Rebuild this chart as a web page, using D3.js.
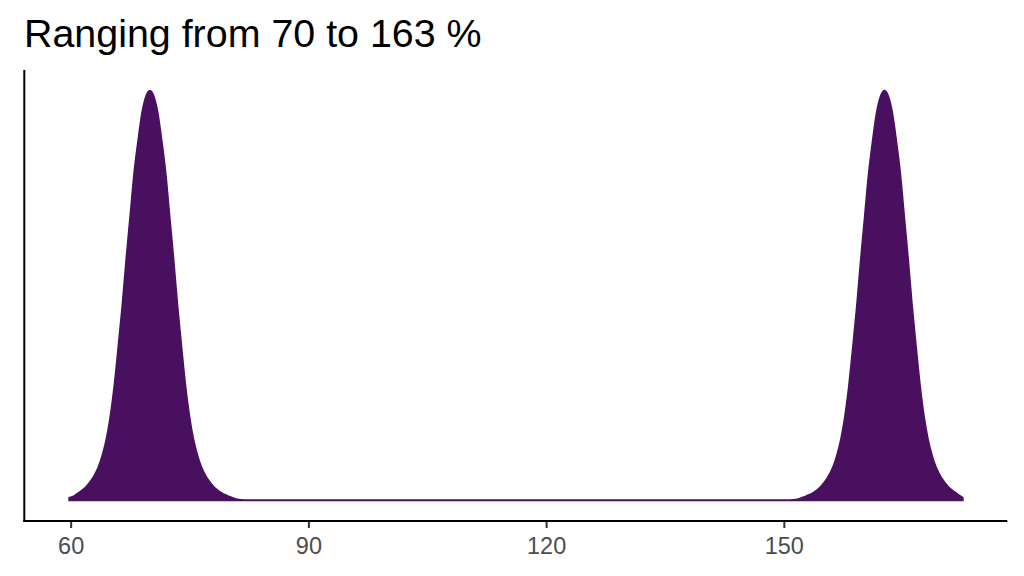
<!DOCTYPE html>
<html>
<head>
<meta charset="utf-8">
<script src="https://cdn.jsdelivr.net/npm/d3@7"></script>
<style>
  html, body { margin: 0; padding: 0; background: #fff; }
  svg { display: block; font-family: "Liberation Sans", Arial, sans-serif; }
</style>
</head>
<body>
<div id="chart"></div>
<script>
// Titel und Achse
const titleText = 'Ranging from 70 to 163 %';
const xTicks = [60, 90, 120, 150];
const xDomain = [54.15, 178.2];

// Dichtekurve (relativ zum Maximum): linker Gipfel, Tal, rechter Gipfel
const densityX = [
    59.8, 60.5, 61, 61.5, 62, 62.5, 63, 63.5, 64, 64.5, 65, 65.5, 66, 66.5, 67, 67.5, 68, 68.5, 69, 69.5,
    70, 70.5, 71, 71.5, 72, 72.5, 73, 73.5, 74, 74.5, 75, 75.5, 76, 76.5, 77, 77.5, 78, 78.5, 79, 79.5,
    80, 81, 82,
    90, 110, 130, 149,
    150.7, 151.7, 152.7, 153.2, 153.7, 154.2, 154.7, 155.2, 155.7, 156.2, 156.7, 157.2, 157.7, 158.2,
    158.7, 159.2, 159.7, 160.2, 160.7, 161.2, 161.7, 162.2, 162.7, 163.2, 163.7, 164.2, 164.7, 165.2,
    165.7, 166.2, 166.7, 167.2, 167.7, 168.2, 168.7, 169.2, 169.7, 170.2, 170.7, 171.2, 171.7, 172.2, 172.6
];
const densityY = [
    0.007, 0.012, 0.019, 0.026, 0.035, 0.047, 0.062, 0.082, 0.111, 0.150, 0.206, 0.281, 0.375, 0.475,
    0.589, 0.694, 0.799, 0.878, 0.946, 0.986,
    1.0, 0.986, 0.946, 0.878, 0.799, 0.694, 0.589, 0.475, 0.375, 0.281, 0.206, 0.150, 0.111, 0.082,
    0.062, 0.047, 0.035, 0.026, 0.019, 0.014,
    0.010, 0.003, 0.0015,
    0.001, 0.001, 0.001, 0.001,
    0.0015, 0.003, 0.010, 0.014, 0.019, 0.026, 0.035, 0.047, 0.062, 0.082, 0.111, 0.150, 0.206, 0.281,
    0.375, 0.475, 0.589, 0.694, 0.799, 0.878, 0.946, 0.986, 1.0, 0.986, 0.946, 0.878, 0.799, 0.694,
    0.589, 0.475, 0.375, 0.281, 0.206, 0.150, 0.111, 0.082, 0.062, 0.047, 0.035, 0.026, 0.019,
    0.012, 0.007
];

const width = 1024, height = 576;
const fillColor = '#4a1060';

const svg = d3.select('#chart').append('svg')
    .attr('width', width)
    .attr('height', height);

// Panelgrenzen
const panel = { left: 24.3, right: 1007.3, top: 70, bottom: 521 };

const x = d3.scaleLinear().domain(xDomain).range([panel.left, panel.right]);
const y = d3.scaleLinear().domain([-0.05, 1.05]).range([panel.bottom, panel.top]);

const points = densityX.map((v, i) => ({ x: v, y: densityY[i] }));

const area = d3.area()
    .x(d => x(d.x))
    .y0(y(0))
    .y1(d => y(d.y))
    .curve(d3.curveMonotoneX);

svg.append('path')
    .datum(points)
    .attr('d', area)
    .attr('fill', fillColor)
    .attr('stroke', fillColor)
    .attr('stroke-width', 1.5);

// Achsen
const xAxis = svg.append('g')
    .attr('transform', `translate(0, ${panel.bottom})`)
    .call(d3.axisBottom(x).tickValues(xTicks).tickSize(7).tickPadding(9).tickFormat(d3.format('d')));

xAxis.select('.domain').remove();
xAxis.selectAll('.tick line').attr('stroke', '#333333').attr('stroke-width', 2);
xAxis.selectAll('.tick text')
    .attr('fill', '#4d4d4d')
    .attr('font-size', '23.5px')
    .attr('font-family', '"Liberation Sans", Arial, sans-serif');

svg.append('line')
    .attr('x1', panel.left - 1).attr('x2', panel.right)
    .attr('y1', panel.bottom).attr('y2', panel.bottom)
    .attr('stroke', '#000').attr('stroke-width', 2);

svg.append('line')
    .attr('x1', panel.left).attr('x2', panel.left)
    .attr('y1', panel.top).attr('y2', panel.bottom + 1)
    .attr('stroke', '#000').attr('stroke-width', 2);

// Titel
svg.append('text')
    .attr('x', 24)
    .attr('y', 46.7)
    .attr('font-size', '39.4px')
    .attr('fill', '#000')
    .text(titleText);
</script>
</body>
</html>
